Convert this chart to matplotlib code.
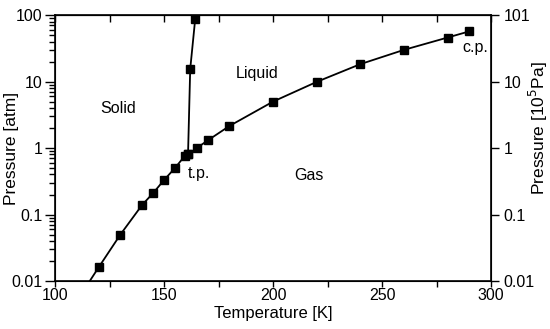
import matplotlib.pyplot as plt
from matplotlib.ticker import FixedLocator, FixedFormatter, LogLocator, NullFormatter, MultipleLocator

plt.rcParams['font.family'] = ['Liberation Sans', 'DejaVu Sans']

# vapour pressure curve (sublimation + evaporation), K / atm
vap_T = [110, 120, 130, 140, 145, 150, 155, 159.5, 161, 165, 170, 180, 200, 220, 240, 260, 280, 290]
vap_P = [0.005, 0.016, 0.05, 0.14, 0.21, 0.33, 0.5, 0.76, 0.8, 1.0, 1.3, 2.15, 5.0, 9.9, 18.3, 30, 46, 57]

# melting curve
melt_T = [161, 162, 164.3]
melt_P = [0.8, 15.4, 88]

yticks = [0.01, 0.1, 1, 10, 100]
left_labels = ['0.01', '0.1', '1', '10', '100']
right_labels = ['0.01', '0.1', '1', '10', '101']

fig = plt.figure(figsize=(5.5, 3.29), dpi=100)
ax = fig.add_axes([0.1, 0.146, 0.793, 0.808])

style = dict(color='black', lw=1.3, marker='s', ms=6.3, mfc='black', mec='black')
ax.plot(vap_T, vap_P, **style)
ax.plot(melt_T, melt_P, **style)

ax.set_yscale('log')
ax.set_xlim(100, 300)
ax.set_ylim(0.01, 100)
ax.yaxis.set_major_locator(FixedLocator(yticks))
ax.yaxis.set_major_formatter(FixedFormatter(left_labels))
ax.yaxis.set_minor_locator(LogLocator(base=10, subs=range(2, 10)))
ax.yaxis.set_minor_formatter(NullFormatter())
ax.xaxis.set_major_locator(MultipleLocator(50))
ax.xaxis.set_minor_locator(MultipleLocator(25))

ax.tick_params(which='both', direction='out', labelsize=11.5, width=1.0, colors='black')
ax.tick_params(axis='y', which='major', length=7, pad=2)
ax.tick_params(axis='y', which='minor', length=4)
ax.tick_params(axis='x', which='major', length=4, pad=1)
ax.tick_params(axis='x', which='minor', length=4)
for s in ax.spines.values():
    s.set_linewidth(1.2)

top = ax.secondary_xaxis('top')
top.xaxis.set_major_locator(MultipleLocator(25))
top.tick_params(direction='in', length=5, width=1.0, labeltop=False)

rax = ax.twinx()
rax.set_yscale('log')
rax.set_ylim(0.01, 100)
rax.yaxis.set_major_locator(FixedLocator(yticks))
rax.yaxis.set_major_formatter(FixedFormatter(right_labels))
rax.yaxis.set_minor_locator(FixedLocator([]))
rax.tick_params(direction='out', length=6, width=1.0, labelsize=11.5, pad=3)

ax.set_xlabel('Temperature [K]', fontsize=12, labelpad=2)
fig.text(11.5 / 550, 1 - 148 / 329, 'Pressure [atm]', fontsize=12.5,
         rotation=90, ha='center', va='center')
fig.text(538.5 / 550, 1 - 128 / 329, 'Pressure [10$^5$Pa]', fontsize=12.5,
         rotation=90, ha='center', va='center')

ax.text(129, 4.0, 'Solid', fontsize=11.5, ha='center', va='center')
ax.text(192.7, 13.4, 'Liquid', fontsize=11.5, ha='center', va='center')
ax.text(216.5, 0.38, 'Gas', fontsize=11.5, ha='center', va='center')
ax.text(166, 0.42, 't.p.', fontsize=11.5, ha='center', va='center')
ax.text(292.6, 33, 'c.p.', fontsize=11.5, ha='center', va='center')

fig.savefig('out.png', dpi=100)
